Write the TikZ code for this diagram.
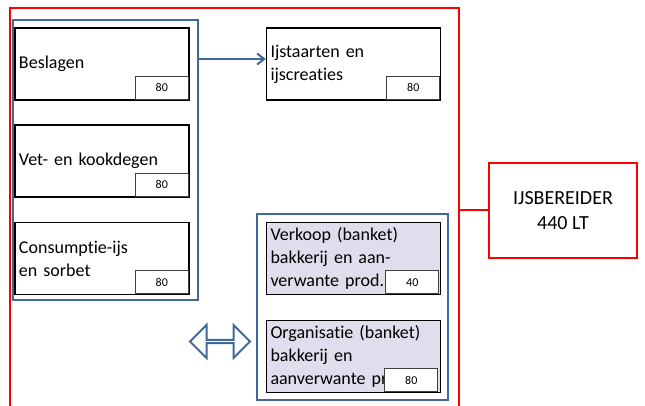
\documentclass[tikz,border=0pt]{standalone}
\usepackage{fontspec}
\setmainfont{Carlito}[RawFeature={-liga}]
\usepackage{tikz}
\usetikzlibrary{arrows.meta,shapes.arrows,positioning}
\definecolor{lred}{RGB}{255, 0, 0}
\definecolor{lblue}{RGB}{65, 104, 155}
\definecolor{llav}{RGB}{224, 222, 236}
\definecolor{dgray}{RGB}{64, 64, 64}

\begin{document}
\begin{tikzpicture}[x = 1pt, y = -1pt,
			prodbox/.style = {rectangle, draw, line width = 1.5pt, minimum width = 174pt, minimum height = 72pt, text width = 166pt, inner sep = 4pt, align = left, font = \fontsize{18}{23}\selectfont},
			numbox/.style = {rectangle, draw = dgray, line width = 1pt, fill = white, minimum width = 53pt, minimum height = 23pt, inner sep = 0pt, anchor = south east, font = \fontsize{12}{14}\selectfont},
			grpbox/.style = {rectangle, draw = lblue, line width = 2pt, inner sep = 0pt},
			redline/.style = {draw = lred, line width = 2pt}]
			\useasboundingbox (0,0) rectangle (645,406);
			% outer frame
			\coordinate (fbl) at (10,412);
			\coordinate (ftr) at (459,8);
			\draw [redline] (fbl) |- (ftr) -- (ftr |- fbl);
			% groups
			\node (grpL) at (105.5,160) [grpbox, minimum width = 185pt, minimum height = 280pt] {};
			\node (grpR) at (352.5,307) [grpbox, minimum width = 191pt, minimum height = 186pt] {};
			% products
			\node (besl) at (102,64) [prodbox] {Beslagen};
			\node (vet) at (102,161) [prodbox] {Vet- en kookdegen};
			\node (cons) at (102,258.5) [prodbox] {Consumptie-ijs\\en sorbet};
			\node (ijst) at (353.5,64) [prodbox] {Ijstaarten en\\ijscreaties};
			\node (verk) at (353.5,258.5) [prodbox, fill = llav] {Verkoop (banket)\\bakkerij en aan-\\verwante prod.};
			\node (orga) at (353.5,356.5) [prodbox, fill = llav] {Organisatie (banket)\\bakkerij en\\aanverwante pr};
			\node (beslN) at ([xshift=-1pt, yshift=1pt]besl.south east) [numbox] {80};
			\node (vetN) at ([xshift=-1pt, yshift=1pt]vet.south east) [numbox] {80};
			\node (consN) at ([xshift=-1pt, yshift=1pt]cons.south east) [numbox] {80};
			\node (ijstN) at ([xshift=-1pt, yshift=1pt]ijst.south east) [numbox] {80};
			\node (verkN) at ([xshift=-2pt, yshift=1pt]verk.south east) [numbox] {40};
			\node (orgaN) at ([xshift=-3pt, yshift=1pt]orga.south east) [numbox] {80};
			% machine
			\node (ijsb) at (563,210.5) [rectangle, draw = lred, line width = 2pt, minimum width = 148pt, minimum height = 95pt, align = center, font = \fontsize{20}{25}\selectfont] {IJSBEREIDER\\440 LT};
			\draw [redline] (ftr |- ijsb.west) -- (ijsb.west);
			% links
			\draw [lblue, line width = 2pt, -{Straight Barb[length=7pt, width=11pt]}] ([yshift=5pt]grpL.east |- ijst.west) -- ([yshift=5pt]ijst.west);
			\node (swap) at (220,341.5) [double arrow, draw = lblue, line width = 2pt, fill = white, minimum height = 60pt, minimum width = 33pt, double arrow head extend = 9pt, inner sep = 0pt] {};
			\end{tikzpicture}
\end{document}
